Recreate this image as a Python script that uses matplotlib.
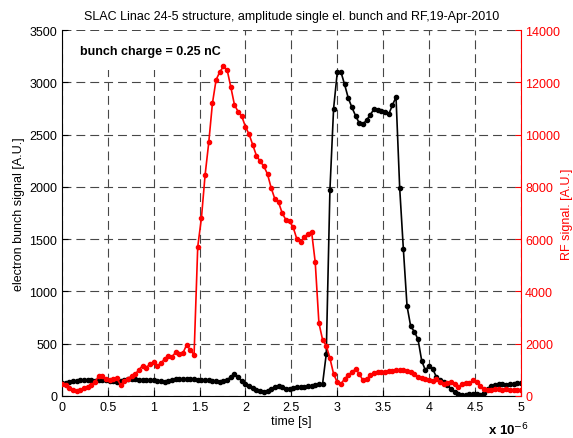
import numpy as np
from matplotlib import pyplot as plt
from matplotlib.ticker import FuncFormatter

plt.rcParams['font.family'] = ['Liberation Sans', 'DejaVu Sans']

# sampling step [us]
dt = 0.04

# electron bunch signal [A.U.]
bunch = [120, 125, 135, 140, 145, 150, 155, 150, 150, 145,
         150, 155, 150, 145, 140, 135, 140, 150, 160, 160,
         160, 155, 155, 155, 150, 150, 145, 140, 135, 140,
         150, 160, 160, 160, 160, 160, 160, 155, 155, 150,
         150, 145, 140, 135, 140, 150, 185, 210, 180, 140,
         110, 95, 75, 60, 45, 40, 50, 65, 85, 95,
         80, 70, 70, 75, 80, 85, 85, 90, 95, 100,
         110, 115, 400, 1970, 2750, 3095, 3100, 2980, 2850, 2760,
         2680, 2610, 2600, 2640, 2690, 2745, 2740, 2725, 2720, 2695,
         2780, 2860, 1990, 1405, 860, 665, 615, 540, 335, 245,
         290, 258, 180, 150, 130, 100, 70, 40, 15, 10,
         10, 15, 20, 15, 10, 30, 70, 95, 105, 110,
         110, 105, 110, 115, 120, 125]

# RF signal [A.U.]
rf = [460, 400, 300, 230, 205, 240, 290, 340, 420, 520,
      760, 770, 640, 590, 640, 690, 400, 560, 660, 760,
      840, 1000, 1160, 1080, 1230, 1290, 1160, 1250, 1420, 1540,
      1500, 1670, 1610, 1650, 1960, 1740, 1570, 5710, 6800, 8450,
      9700, 11200, 12100, 12400, 12610, 12480, 11830, 11140, 10880, 10700,
      10300, 10010, 9600, 9190, 8980, 8790, 8490, 7960, 7540, 7410,
      7000, 6740, 6680, 6450, 6000, 5900, 6070, 6200, 6290, 5110,
      2790, 2150, 1920, 1440, 840, 520, 460, 650, 800, 910,
      1030, 840, 590, 650, 780, 880, 910, 920, 930, 950,
      960, 980, 990, 990, 960, 900, 840, 720, 670, 630,
      600, 580, 650, 540, 470, 500, 520, 460, 340, 450,
      500, 480, 590, 530, 380, 260, 230, 240, 250, 250,
      240, 250, 240, 230, 240, 230]

t = np.arange(len(bunch)) * dt * 1e-6

fig = plt.figure(figsize=(5.73, 4.39), dpi=100)
ax = fig.add_axes([0.108, 0.096, 0.801, 0.833])
ax2 = ax.twinx()

ax.plot(t, bunch, '.-', color='k', lw=1.2, ms=6)
ax2.plot(t, rf, '.-', color='r', lw=1.2, ms=6)

ax.set_xlim(0, 5e-6)
ax.set_ylim(0, 3500)
ax2.set_ylim(0, 14000)
ax.set_xticks(np.arange(0, 5.01, 0.5) * 1e-6)
ax.xaxis.set_major_formatter(FuncFormatter(lambda v, p: '%g' % round(v * 1e6, 2)))
ax.set_yticks(np.arange(0, 3501, 500))
ax2.set_yticks(np.arange(0, 14001, 2000))

ax.grid(True, ls=(0, (8, 4.5)), color='#474747', lw=0.8)
ax.set_axisbelow(True)

for a in (ax, ax2):
    a.spines['top'].set_visible(False)
ax.spines['right'].set_visible(False)
ax2.spines['left'].set_visible(False)
ax2.spines['bottom'].set_visible(False)
ax2.spines['right'].set_color('r')
ax.tick_params(direction='in', labelsize=9, length=4)
ax2.tick_params(direction='in', labelsize=9, length=4, pad=3, colors='r')

ax.set_xlabel('time [s]', fontsize=9, labelpad=2)
ax.set_ylabel('electron bunch signal [A.U.]', fontsize=9, labelpad=3)
ax2.set_ylabel('RF signal. [A.U.]', fontsize=9, color='r', labelpad=1)
ax.set_title('SLAC Linac 24-5 structure, amplitude single el. bunch and RF,19-Apr-2010',
             fontsize=9, pad=8)
ax.text(0.2e-6, 3305, 'bunch charge = 0.25 nC', fontsize=9, fontweight='bold',
        va='center', zorder=1,
        bbox=dict(boxstyle='square,pad=1.05', fc='white', ec='none'))
fig.text(0.852, 0.008, 'x 10$^{-6}$', fontsize=9.5, fontweight='bold')

plt.savefig('out.png', dpi=100)
